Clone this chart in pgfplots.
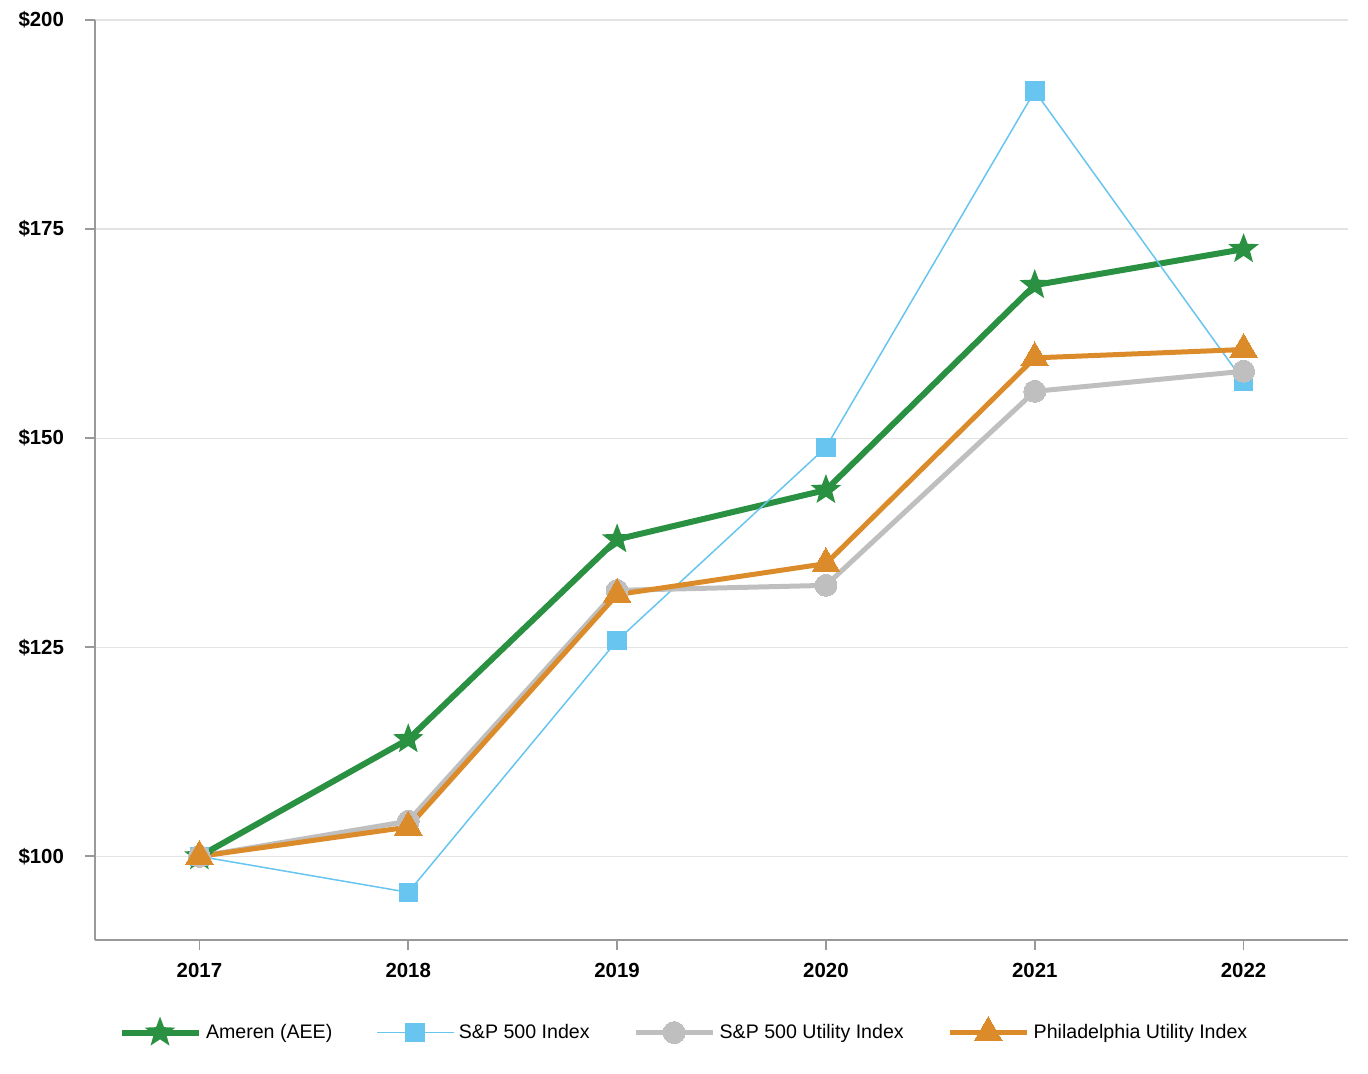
\documentclass[border=0pt]{standalone}
\usepackage{pgfplots}
\pgfplotsset{compat=1.18}
\usepackage{fontspec}
\setmainfont{Liberation Sans}
\definecolor{cgreen}{HTML}{2A9142}
\definecolor{cblue}{HTML}{67C5EF}
\definecolor{cgray}{HTML}{BFBFBF}
\definecolor{corange}{HTML}{DB8B2A}
\definecolor{caxis}{HTML}{999999}
\definecolor{cgrid}{HTML}{E3E3E3}
\pgfdeclareplotmark{fstar}{%
  \pgfpathmoveto{\pgfpointpolar{90}{\pgfplotmarksize}}%
  \pgfpathlineto{\pgfpointpolar{126}{0.42\pgfplotmarksize}}%
  \pgfpathlineto{\pgfpointpolar{162}{\pgfplotmarksize}}%
  \pgfpathlineto{\pgfpointpolar{198}{0.42\pgfplotmarksize}}%
  \pgfpathlineto{\pgfpointpolar{234}{\pgfplotmarksize}}%
  \pgfpathlineto{\pgfpointpolar{270}{0.42\pgfplotmarksize}}%
  \pgfpathlineto{\pgfpointpolar{306}{\pgfplotmarksize}}%
  \pgfpathlineto{\pgfpointpolar{342}{0.42\pgfplotmarksize}}%
  \pgfpathlineto{\pgfpointpolar{18}{\pgfplotmarksize}}%
  \pgfpathlineto{\pgfpointpolar{54}{0.42\pgfplotmarksize}}%
  \pgfpathclose
  \pgfusepathqfill}
\begin{document}
\begin{tikzpicture}
\path[use as bounding box] (-47.5pt,-67pt) rectangle (636.5pt,470pt);
\begin{axis}[
  at={(0pt,0pt)}, anchor=south west,
  scale only axis, width=626.5pt, height=460pt,
  xmin=2016.5, xmax=2022.5, ymin=90, ymax=200,
  axis x line*=bottom, axis y line*=left,
  axis line style={caxis, line width=0.9pt},
  xtick={2017,2018,2019,2020,2021,2022},
  xticklabels={2017,2018,2019,2020,2021,2022},
  ytick={100,125,150,175,200},
  yticklabels={\$100,\$125,\$150,\$175,\$200},
  tick align=outside, major tick length=5pt,
  tick style={caxis, line width=0.9pt},
  ticklabel style={font=\fontsize{10.2}{12}\selectfont\bfseries},
  yticklabel style={xshift=-7pt},
  xticklabel style={yshift=-3pt},
  ymajorgrids, grid style={cgrid, line width=0.6pt},
  legend style={draw=none, at={(0.471,-0.099)}, anchor=center, legend columns=4,
    font=\fontsize{9.8}{12}\selectfont,
    /tikz/every even column/.append style={column sep=20pt}},
  legend image code/.code={\draw[mark repeat=2,mark phase=2,#1] plot coordinates {(0pt,0pt) (19pt,0pt) (38.5pt,0pt)};},
]
\addplot[cgreen, line width=3pt, mark=fstar, mark size=8pt, mark options={fill=cgreen}] coordinates {
 (2017,100) (2018,114.0) (2019,137.9) (2020,143.8) (2021,168.3) (2022,172.6)};
\addlegendentry{Ameren (AEE)}
\addplot[cblue, line width=0.75pt, mark=square*, mark size=4.5pt, mark options={fill=cblue}] coordinates {
 (2017,100) (2018,95.7) (2019,125.8) (2020,148.9) (2021,191.5) (2022,156.8)};
\addlegendentry{S\&P 500 Index}
\addplot[cgray, line width=2.5pt, mark=*, mark size=5.5pt, mark options={fill=cgray, line width=0pt}] coordinates {
 (2017,100) (2018,104.2) (2019,131.8) (2020,132.4) (2021,155.6) (2022,158.0)};
\addlegendentry{S\&P 500 Utility Index}
\addplot[corange, line width=2.5pt, mark=triangle*, mark size=8pt, mark options={fill=corange, line width=0pt}] coordinates {
 (2017,100) (2018,103.5) (2019,131.3) (2020,135.0) (2021,159.6) (2022,160.6)};
\addlegendentry{Philadelphia Utility Index}
\end{axis}
\end{tikzpicture}
\end{document}
